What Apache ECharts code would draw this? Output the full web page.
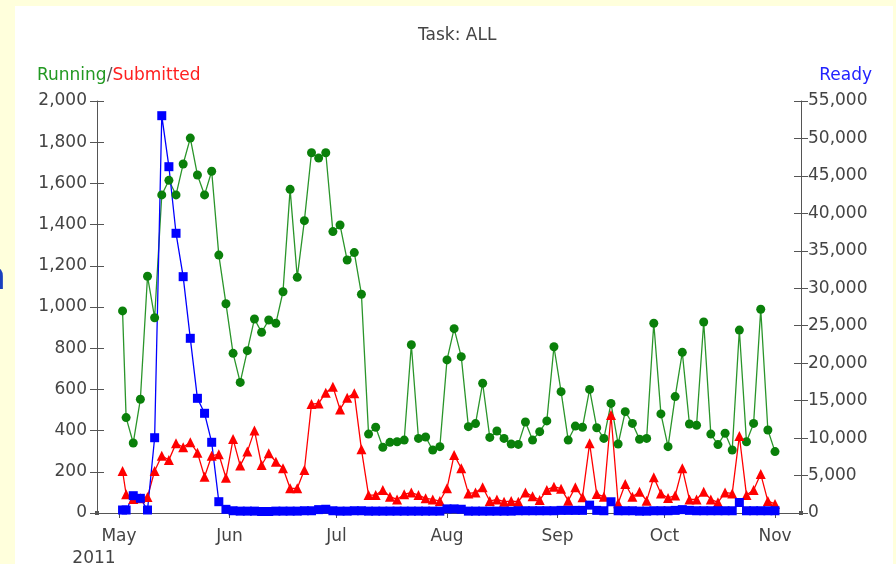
<!DOCTYPE html>
<html>
<head>
<meta charset="utf-8">
<title>Task: ALL</title>
<script src="https://cdn.jsdelivr.net/npm/echarts@6/dist/echarts.min.js"></script>
<style>
  html, body { margin: 0; padding: 0; background: #ffffdc; }
  #chart { width: 896px; height: 564px; }
</style>
</head>
<body>
<div id="chart"></div>
<script>
// sample days (2011)
const dates = [
  '2011-05-02', '2011-05-03', '2011-05-05', '2011-05-07', '2011-05-09', '2011-05-11', '2011-05-13', '2011-05-15',
  '2011-05-17', '2011-05-19', '2011-05-21', '2011-05-23', '2011-05-25', '2011-05-27', '2011-05-29', '2011-05-31',
  '2011-06-02', '2011-06-04', '2011-06-06', '2011-06-08', '2011-06-10', '2011-06-12', '2011-06-14', '2011-06-16',
  '2011-06-18', '2011-06-20', '2011-06-22', '2011-06-24', '2011-06-26', '2011-06-28', '2011-06-30',
  '2011-07-02', '2011-07-04', '2011-07-06', '2011-07-08', '2011-07-10', '2011-07-12', '2011-07-14', '2011-07-16',
  '2011-07-18', '2011-07-20', '2011-07-22', '2011-07-24', '2011-07-26', '2011-07-28', '2011-07-30',
  '2011-08-01', '2011-08-03', '2011-08-05', '2011-08-07', '2011-08-09', '2011-08-11', '2011-08-13', '2011-08-15',
  '2011-08-17', '2011-08-19', '2011-08-21', '2011-08-23', '2011-08-25', '2011-08-27', '2011-08-29', '2011-08-31',
  '2011-09-02', '2011-09-04', '2011-09-06', '2011-09-08', '2011-09-10', '2011-09-12', '2011-09-14', '2011-09-16',
  '2011-09-18', '2011-09-20', '2011-09-22', '2011-09-24', '2011-09-26', '2011-09-28', '2011-09-30',
  '2011-10-02', '2011-10-04', '2011-10-06', '2011-10-08', '2011-10-10', '2011-10-12', '2011-10-14', '2011-10-16',
  '2011-10-18', '2011-10-20', '2011-10-22', '2011-10-24', '2011-10-26', '2011-10-28', '2011-10-30', '2011-11-01'
];

// left axis
const running = [
  981, 463, 340, 552, 1149, 948, 1544, 1615, 1544, 1694, 1820, 1641, 1544, 1659, 1252, 1016,
  775, 634, 788, 942, 877, 937, 921, 1074, 1571, 1144, 1419, 1749, 1723, 1749, 1366,
  1398, 1228, 1264, 1062, 383, 416, 319, 343, 346, 354, 817, 362, 369, 306, 322,
  743, 895, 759, 419, 434, 630, 367, 398, 362, 335, 333, 442, 354, 395, 447, 807,
  589, 354, 422, 416, 600, 414, 362, 532, 335, 492, 435, 358, 362, 921, 481,
  322, 565, 780, 432, 426, 927, 383, 332, 387, 306, 888, 346, 435, 989, 403, 298
];
const submitted = [
  204, 91, 68, 71, 78, 204, 278, 257, 338, 319, 343, 293, 176, 278, 285, 171,
  359, 230, 298, 400, 233, 290, 249, 217, 120, 120, 209, 529, 532, 584, 613,
  503, 560, 581, 309, 87, 87, 112, 79, 66, 91, 99, 87, 71, 66, 58,
  120, 282, 217, 95, 99, 125, 58, 66, 55, 58, 55, 100, 81, 63, 112, 128,
  118, 60, 125, 76, 338, 92, 79, 476, 47, 141, 79, 103, 60, 173, 95,
  73, 85, 217, 66, 66, 103, 66, 52, 99, 95, 374, 87, 112, 189, 58, 44
];
// right axis
const ready = [
  400, 400, 2310, 1960, 400, 10050, 53040, 46230, 37340, 31550, 23320, 15310, 13310, 9440, 1510, 490,
  300, 250, 250, 250, 200, 200, 250, 250, 250, 250, 300, 300, 450, 500, 300,
  250, 250, 300, 300, 250, 250, 250, 250, 250, 250, 250, 250, 250, 250, 250,
  550, 550, 500, 250, 250, 250, 250, 250, 250, 250, 300, 300, 300, 300, 300, 300,
  350, 350, 350, 350, 1050, 350, 300, 1500, 300, 300, 300, 250, 250, 300, 300,
  300, 350, 450, 350, 300, 300, 300, 300, 300, 300, 1400, 300, 300, 300, 300, 300
];

const monthNames = ['Jan', 'Feb', 'Mar', 'Apr', 'May', 'Jun', 'Jul', 'Aug', 'Sep', 'Oct', 'Nov', 'Dec'];

const font = 'DejaVu Sans';
const axisColor = '#555';
const textColor = '#444';

function pairs(values) {
  return values.map(function (v, i) { return [dates[i], v]; });
}

function numLabel(v) {
  return v.toLocaleString('en-US');
}

let chart = echarts.init(document.getElementById('chart'));
let option = {
  backgroundColor: '#ffffdc',
  animation: false,
  title: {
    text: 'Task: ALL',
    left: 413,
    top: 22,
    textStyle: { fontFamily: font, fontSize: 17, fontWeight: 'normal', color: textColor }
  },
  graphic: [
    {
      type: 'rect', z: -10, silent: true,
      shape: { x: 15, y: 6, width: 878, height: 570 },
      style: { fill: '#ffffff' }
    },
    {
      type: 'text', x: 6, y: 298, silent: true,
      style: { text: 'n', fontFamily: font, fontSize: 38, fill: '#1a3fbf', align: 'right', verticalAlign: 'bottom' }
    },
    {
      type: 'text', x: 37, y: 76, silent: true,
      style: {
        text: '{g|Running}{k|/}{r|Submitted}',
        verticalAlign: 'middle',
        rich: {
          g: { fontFamily: font, fontSize: 17, fill: '#229922', color: '#229922' },
          k: { fontFamily: font, fontSize: 17, fill: '#555', color: '#555' },
          r: { fontFamily: font, fontSize: 17, fill: '#ff2020', color: '#ff2020' }
        }
      }
    },
    {
      type: 'text', x: 872, y: 76, silent: true,
      style: { text: 'Ready', fontFamily: font, fontSize: 17, fill: '#2222ff', align: 'right', verticalAlign: 'middle' }
    }
  ],
  grid: { left: 97, right: 95, top: 101, bottom: 51, containLabel: false, outerBoundsMode: 'none' },
  xAxis: {
    type: 'time',
    min: new Date(2011, 3, 24, 20).getTime(),
    max: new Date(2011, 10, 8, 7).getTime(),
    splitNumber: 7,
    axisLine: {
      lineStyle: { color: axisColor, width: 1 },
      symbol: ['rect', 'rect'],
      symbolSize: [4, 4]
    },
    axisTick: { length: 5, lineStyle: { color: axisColor } },
    splitLine: { show: false },
    axisLabel: {
      margin: 13,
      fontFamily: font,
      fontSize: 17,
      color: textColor,
      showMinLabel: false,
      showMaxLabel: false,
      formatter: function (val) {
        let d = new Date(val);
        let m = monthNames[d.getMonth()];
        if (d.getMonth() === 4) return '{m|' + m + '}\n{y|2011}';
        return '{m|' + m + '}';
      },
      rich: {
        m: { fontFamily: font, fontSize: 17, color: textColor, lineHeight: 22 },
        y: { fontFamily: font, fontSize: 17, color: textColor, lineHeight: 22, padding: [0, 50, 0, 0] }
      }
    }
  },
  yAxis: [
    {
      type: 'value', position: 'left', min: 0, max: 2000, interval: 200,
      axisLine: { show: true, lineStyle: { color: axisColor } },
      axisTick: { show: true, length: 7, lineStyle: { color: axisColor } },
      splitLine: { show: false },
      axisLabel: { margin: 10, fontFamily: font, fontSize: 17, color: textColor, formatter: numLabel }
    },
    {
      type: 'value', position: 'left', min: 0, max: 2000, interval: 200,
      axisLine: { show: false },
      axisTick: { show: true, inside: true, length: 7, lineStyle: { color: axisColor } },
      splitLine: { show: false },
      axisLabel: { show: false }
    },
    {
      type: 'value', position: 'right', min: 0, max: 55000, interval: 5000,
      axisLine: { show: true, lineStyle: { color: axisColor } },
      axisTick: { show: true, length: 7, lineStyle: { color: axisColor } },
      splitLine: { show: false },
      axisLabel: { margin: 7, fontFamily: font, fontSize: 17, color: textColor, formatter: numLabel }
    },
    {
      type: 'value', position: 'right', min: 0, max: 55000, interval: 5000,
      axisLine: { show: false },
      axisTick: { show: true, inside: true, length: 7, lineStyle: { color: axisColor } },
      splitLine: { show: false },
      axisLabel: { show: false }
    }
  ],
  series: [
    {
      name: 'Running', type: 'line', yAxisIndex: 0, data: pairs(running),
      symbol: 'circle', symbolSize: 9,
      lineStyle: { color: '#2a952a', width: 1.3 },
      itemStyle: { color: '#0a800a' }
    },
    {
      name: 'Submitted', type: 'line', yAxisIndex: 0, data: pairs(submitted),
      symbol: 'triangle', symbolSize: 10,
      lineStyle: { color: '#ff0000', width: 1.3 },
      itemStyle: { color: '#ff0000' }
    },
    {
      name: 'Ready', type: 'line', yAxisIndex: 2, data: pairs(ready),
      symbol: 'rect', symbolSize: 9,
      lineStyle: { color: '#0000ff', width: 1.3 },
      itemStyle: { color: '#0000ff' }
    }
  ]
};
chart.setOption(option);
</script>
</body>
</html>
